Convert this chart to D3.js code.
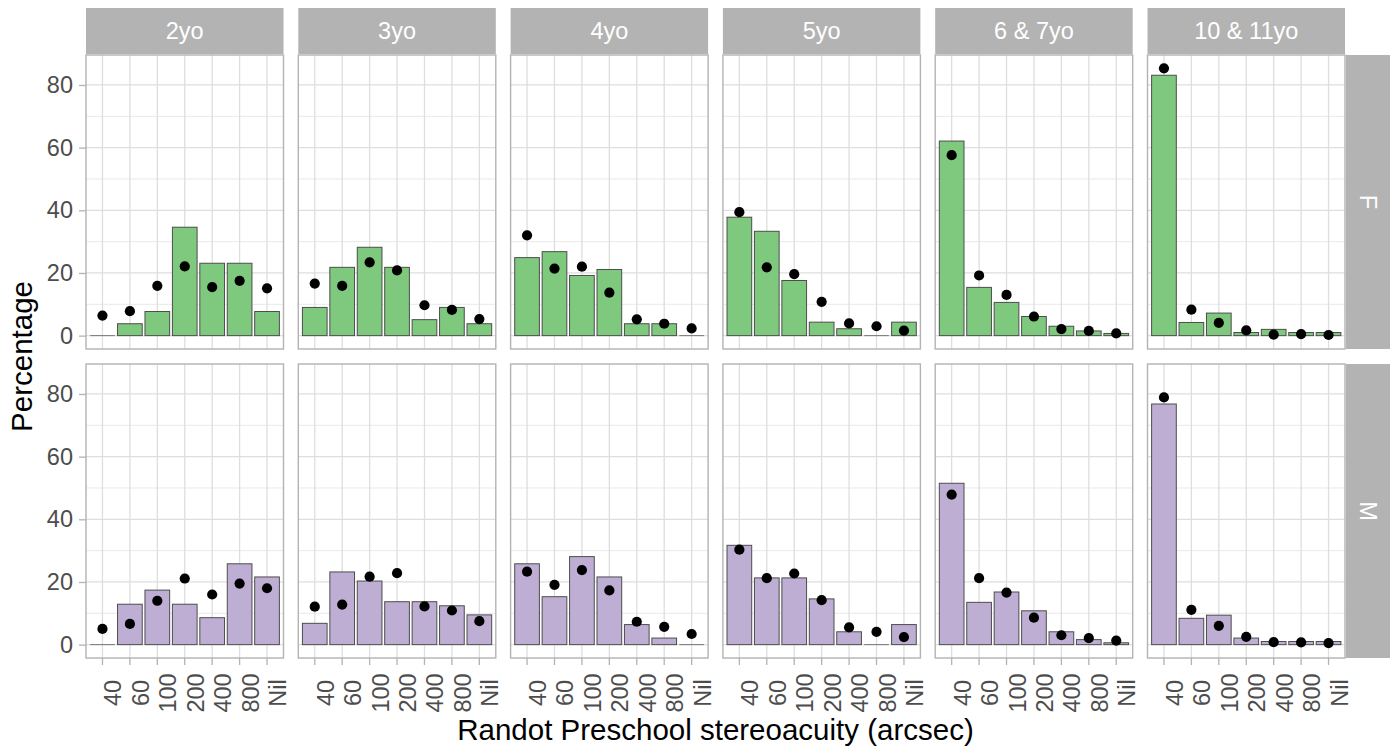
<!DOCTYPE html>
<html><head><meta charset="utf-8">
<script src="https://cdn.jsdelivr.net/npm/d3@7"></script>
<style>
body{margin:0;background:#fff}
svg{display:block}
text{font-family:"Liberation Sans",Arial,Helvetica,sans-serif}
</style>
</head><body>
<svg id="c" width="1393" height="748"></svg>
<script>
// ---------------- data ----------------
const ages = ["2yo","3yo","4yo","5yo","6 & 7yo","10 & 11yo"];
const sexes = ["F","M"];
const categories = ["40","60","100","200","400","800","Nil"];
const yTicks = [0,20,40,60,80];
const yMinor = [10,30,50,70];
// bar percentages, one row per age group
const barsF = [
  [0.0, 3.8, 7.7, 34.6, 23.1, 23.1, 7.7],
  [9.0, 21.8, 28.2, 21.8, 5.1, 9.0, 3.8],
  [24.9, 26.8, 19.2, 21.1, 3.8, 3.8, 0.0],
  [37.8, 33.3, 17.6, 4.3, 2.2, 0.0, 4.3],
  [62.1, 15.4, 10.6, 6.1, 3.0, 1.5, 0.7],
  [83.1, 4.2, 7.2, 1.0, 2.0, 1.0, 1.0]
];
const dotsF = [
  [6.4, 7.8, 15.9, 22.1, 15.5, 17.5, 15.1],
  [16.6, 15.9, 23.4, 20.8, 9.7, 8.2, 5.3],
  [32.0, 21.4, 22.0, 13.7, 5.2, 3.8, 2.3],
  [39.4, 21.8, 19.6, 10.8, 3.9, 3.0, 1.6],
  [57.6, 19.2, 13.0, 6.1, 2.1, 1.5, 0.7],
  [85.3, 8.3, 4.1, 1.7, 0.3, 0.5, 0.2]
];
const barsM = [
  [0.0, 12.9, 17.4, 12.9, 8.6, 25.8, 21.6],
  [6.8, 23.2, 20.3, 13.7, 13.7, 12.4, 9.5],
  [25.8, 15.3, 28.1, 21.6, 6.4, 2.1, 0.0],
  [31.7, 21.3, 21.3, 14.6, 4.1, 0.0, 6.4],
  [51.5, 13.5, 16.8, 10.8, 4.1, 1.6, 0.6],
  [76.8, 8.4, 9.4, 2.1, 1.0, 1.0, 1.0]
];
const dotsM = [
  [5.0, 6.6, 14.0, 21.1, 16.0, 19.5, 18.0],
  [12.1, 12.8, 21.7, 22.8, 12.2, 10.9, 7.5],
  [23.3, 19.1, 23.8, 17.3, 7.3, 5.7, 3.4],
  [30.3, 21.2, 22.7, 14.2, 5.5, 4.1, 2.4],
  [47.9, 21.2, 16.6, 8.6, 3.0, 2.1, 1.3],
  [78.9, 11.1, 6.0, 2.5, 0.8, 0.7, 0.5]
];
const fills = ["#7FC97F", "#BEAED4"];
const xTitle = "Randot Preschool stereoacuity (arcsec)";
const yTitle = "Percentage";

// ---------------- layout ----------------
const svg = d3.select("#c");
const panelLeft0 = 86, panelW = 197.5, colStep = 212.3;
const rowTops = [55, 364], panelH = 294;
const stripTop = 8, stripH = 46;
const rStripX = 1346, rStripW = 44;
const tickFont = 23.5, titleFont = 29.5;
const tickCol = "#4D4D4D", grey70 = "#B3B3B3";

const allVals = [barsF, dotsF, barsM, dotsM].flat(2);
const yMax = d3.max(allVals), yMinD = 0;
const ex = (yMax - yMinD) * 0.05;

const rows = [{bars: barsF, dots: dotsF}, {bars: barsM, dots: dotsM}];

ages.forEach((age, c) => {
  const x0 = panelLeft0 + c * colStep;
  svg.append("rect").attr("x", x0).attr("y", stripTop).attr("width", panelW).attr("height", stripH)
    .attr("fill", grey70);
  svg.append("text").attr("x", x0 + panelW / 2).attr("y", stripTop + stripH / 2)
    .attr("text-anchor", "middle").attr("dominant-baseline", "central")
    .attr("fill", "#fff").attr("font-size", tickFont).text(age);
});

rows.forEach((row, r) => {
  const top = rowTops[r];
  const y = d3.scaleLinear().domain([yMinD - ex, yMax + ex]).range([top + panelH, top]);
  svg.append("rect").attr("x", rStripX).attr("y", top).attr("width", rStripW).attr("height", panelH)
    .attr("fill", grey70);
  svg.append("text").attr("transform", `translate(${rStripX + rStripW / 2},${top + panelH / 2}) rotate(90)`)
    .attr("text-anchor", "middle").attr("dominant-baseline", "central")
    .attr("fill", "#fff").attr("font-size", tickFont).text(sexes[r]);

  ages.forEach((age, c) => {
    const x0 = panelLeft0 + c * colStep;
    const x = d3.scaleBand().domain(categories).range([x0, x0 + panelW])
      .paddingInner(0.1).paddingOuter(0.15);
    const g = svg.append("g");
    g.selectAll(".minor").data(yMinor).join("line")
      .attr("x1", x0).attr("x2", x0 + panelW).attr("y1", d => y(d)).attr("y2", d => y(d))
      .attr("stroke", "#E6E6E6").attr("stroke-width", 0.9);
    g.selectAll(".major").data(yTicks).join("line")
      .attr("x1", x0).attr("x2", x0 + panelW).attr("y1", d => y(d)).attr("y2", d => y(d))
      .attr("stroke", "#DEDEDE").attr("stroke-width", 1.3);
    g.selectAll(".vmajor").data(categories).join("line")
      .attr("x1", d => x(d) + x.bandwidth() / 2).attr("x2", d => x(d) + x.bandwidth() / 2)
      .attr("y1", top).attr("y2", top + panelH)
      .attr("stroke", "#DEDEDE").attr("stroke-width", 1.3);
    const bv = row.bars[c].map((v, i) => ({k: categories[i], v}));
    g.selectAll(".bar").data(bv.filter(d => d.v > 0)).join("rect")
      .attr("x", d => x(d.k)).attr("width", x.bandwidth())
      .attr("y", d => y(d.v)).attr("height", d => y(0) - y(d.v))
      .attr("fill", fills[r]).attr("stroke", "#4D4D4D").attr("stroke-width", 1);
    g.selectAll(".zbar").data(bv.filter(d => d.v <= 0)).join("line")
      .attr("x1", d => x(d.k)).attr("x2", d => x(d.k) + x.bandwidth())
      .attr("y1", y(0)).attr("y2", y(0))
      .attr("stroke", "#777").attr("stroke-width", 1);
    const dv = row.dots[c].map((v, i) => ({k: categories[i], v}));
    g.selectAll(".dot").data(dv).join("circle")
      .attr("cx", d => x(d.k) + x.bandwidth() / 2).attr("cy", d => y(d.v))
      .attr("r", 5.1).attr("fill", "#000");
    g.append("rect").attr("x", x0).attr("y", top).attr("width", panelW).attr("height", panelH)
      .attr("fill", "none").attr("stroke", grey70).attr("stroke-width", 1.4);

    if (c === 0) {
      const ax = svg.append("g").attr("transform", `translate(${x0},0)`)
        .call(d3.axisLeft(y).tickValues(yTicks).tickSize(7).tickPadding(6));
      ax.select(".domain").remove();
      ax.selectAll(".tick line").attr("stroke", grey70).attr("stroke-width", 1.3);
      ax.selectAll(".tick text").attr("font-size", tickFont).attr("fill", tickCol)
        .attr("font-family", null);
    }
    if (r === 1) {
      const ax = svg.append("g").attr("transform", `translate(0,${top + panelH})`)
        .call(d3.axisBottom(x).tickSize(7));
      ax.select(".domain").remove();
      ax.selectAll(".tick line").attr("stroke", grey70).attr("stroke-width", 1.3);
      ax.selectAll(".tick text").attr("font-size", tickFont).attr("fill", tickCol)
        .attr("font-family", null)
        .attr("x", 0).attr("y", 0).attr("dy", null)
        .attr("text-anchor", "middle")
        .attr("transform", "translate(19,35) rotate(-90)");
    }
  });
});

svg.append("text").attr("x", panelLeft0 + (5 * colStep + panelW) / 2).attr("y", 740)
  .attr("text-anchor", "middle").attr("font-size", titleFont).attr("fill", "#000").text(xTitle);
svg.append("text").attr("transform", `translate(32,${(rowTops[0] + rowTops[1] + panelH) / 2}) rotate(-90)`)
  .attr("text-anchor", "middle").attr("font-size", titleFont).attr("fill", "#000").text(yTitle);
</script>
</body></html>
